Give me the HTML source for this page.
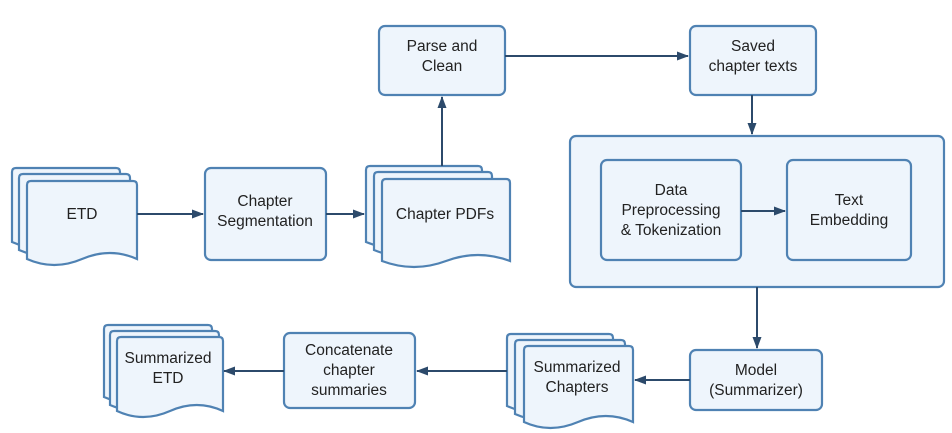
<!DOCTYPE html>
<html><head><style>
body{margin:0;background:#fff;}
svg{display:block;}
text{font-family:"Liberation Sans",sans-serif;font-size:15.5px;fill:#222;text-anchor:middle;}
.b{fill:#eef5fc;stroke:#4f82b3;stroke-width:2.2;}
.l{stroke:#2c4a6b;stroke-width:2;fill:none;}
.a{fill:#2c4a6b;}
</style></head><body>
<svg width="952" height="433" viewBox="0 0 952 433">
<defs>
<marker id="m" markerWidth="12" markerHeight="12" refX="11" refY="6" orient="auto" markerUnits="userSpaceOnUse"><path d="M0,1.5 L12,6 L0,10.5 Z" class="a"/></marker>
</defs>
<path class="b" d="M12,172 q0,-4 4,-4 h100 q4,0 4,4 v70 q-27,-12 -54,0 t-54,0 z"/>
<path class="b" d="M19,178 q0,-4 4,-4 h103 q4,0 4,4 v72 q-27,-12 -55,0 t-56,0 z"/>
<path class="b" d="M27,185 q0,-4 4,-4 h102 q4,0 4,4 v74 q-27,-12 -55,0 t-55,0 z"/>
<text x="82" y="219">ETD</text>
<rect class="b" x="205" y="168" width="121" height="92" rx="6"/>
<text x="265" y="206">Chapter</text><text x="265" y="226">Segmentation</text>
<path class="b" d="M366,170 q0,-4 4,-4 h108 q4,0 4,4 v72 q-29,-12 -58,0 t-58,0 z"/>
<path class="b" d="M374,176 q0,-4 4,-4 h110 q4,0 4,4 v74 q-29,-12 -59,0 t-59,0 z"/>
<path class="b" d="M382,183 q0,-4 4,-4 h120 q4,0 4,4 v78 q-32,-12 -64,0 t-64,0 z"/>
<text x="445" y="219">Chapter PDFs</text>
<rect class="b" x="379" y="26" width="126" height="69" rx="6"/>
<text x="442" y="51">Parse and</text><text x="442" y="71">Clean</text>
<rect class="b" x="690" y="26" width="126" height="69" rx="6"/>
<text x="753" y="51">Saved</text><text x="753" y="71">chapter texts</text>
<rect class="b" x="570" y="136" width="374" height="151" rx="6"/>
<rect class="b" x="601" y="160" width="140" height="100" rx="6"/>
<text x="671" y="195">Data</text><text x="671" y="215">Preprocessing</text><text x="671" y="235">&amp; Tokenization</text>
<rect class="b" x="787" y="160" width="124" height="100" rx="6"/>
<text x="849" y="205">Text</text><text x="849" y="225">Embedding</text>
<rect class="b" x="690" y="350" width="132" height="60" rx="6"/>
<text x="756" y="375">Model</text><text x="756" y="395">(Summarizer)</text>
<path class="b" d="M507,338 q0,-4 4,-4 h98 q4,0 4,4 v68 q-26,-12 -53,0 t-53,0 z"/>
<path class="b" d="M515,344 q0,-4 4,-4 h102 q4,0 4,4 v70 q-27,-12 -55,0 t-55,0 z"/>
<path class="b" d="M524,350 q0,-4 4,-4 h101 q4,0 4,4 v72 q-27,-12 -55,0 t-54,0 z"/>
<text x="577" y="372">Summarized</text><text x="577" y="392">Chapters</text>
<rect class="b" x="284" y="333" width="131" height="75" rx="6"/>
<text x="349" y="355">Concatenate</text><text x="349" y="375">chapter</text><text x="349" y="395">summaries</text>
<path class="b" d="M104,329 q0,-4 4,-4 h100 q4,0 4,4 v68 q-27,-12 -54,0 t-54,0 z"/>
<path class="b" d="M110,335 q0,-4 4,-4 h101 q4,0 4,4 v70 q-27,-12 -54,0 t-55,0 z"/>
<path class="b" d="M117,341 q0,-4 4,-4 h98 q4,0 4,4 v70 q-26,-12 -53,0 t-53,0 z"/>
<text x="168" y="363">Summarized</text><text x="168" y="383">ETD</text>
<path class="l" d="M137,214 H203" marker-end="url(#m)"/>
<path class="l" d="M326,214 H364" marker-end="url(#m)"/>
<path class="l" d="M442,166 V97" marker-end="url(#m)"/>
<path class="l" d="M505,56 H688" marker-end="url(#m)"/>
<path class="l" d="M752,95 V134" marker-end="url(#m)"/>
<path class="l" d="M741,211 H785" marker-end="url(#m)"/>
<path class="l" d="M757,287 V348" marker-end="url(#m)"/>
<path class="l" d="M690,380 H635" marker-end="url(#m)"/>
<path class="l" d="M507,371 H417" marker-end="url(#m)"/>
<path class="l" d="M284,371 H224" marker-end="url(#m)"/>
</svg>
</body></html>
